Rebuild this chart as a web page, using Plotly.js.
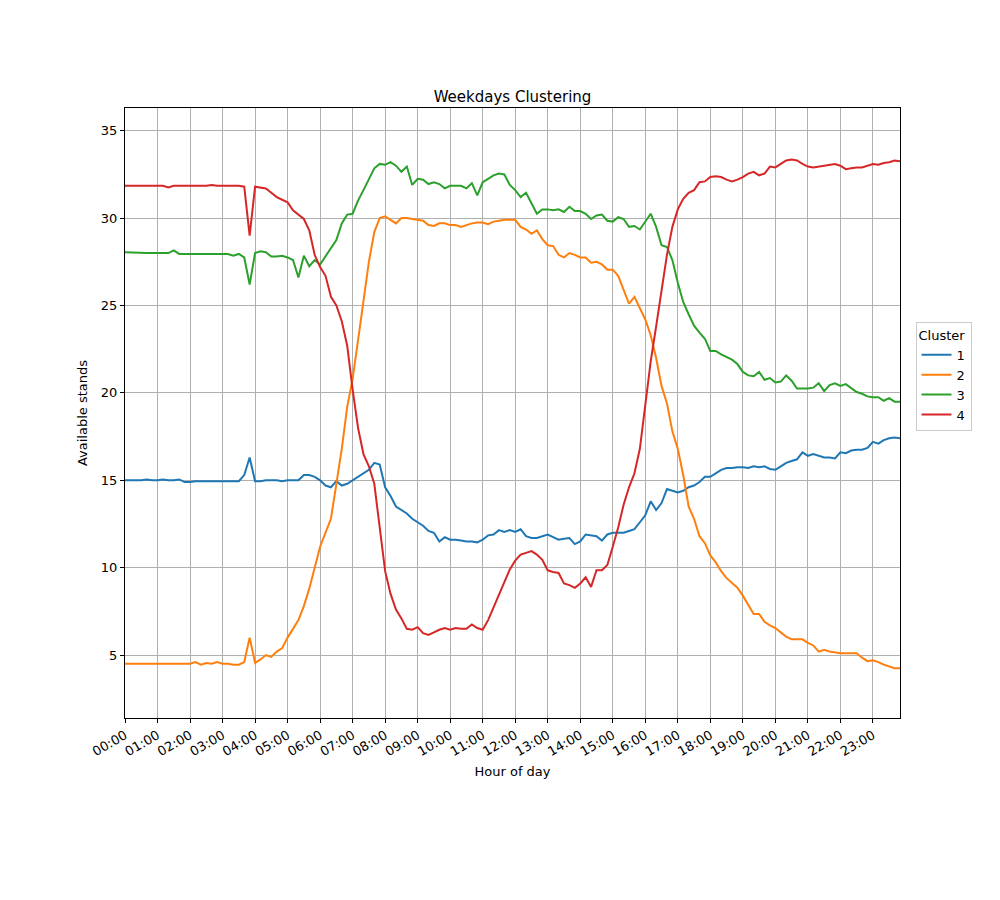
<!DOCTYPE html>
<html>
<head>
<meta charset="utf-8">
<script src="https://cdn.plot.ly/plotly-3.0.1.min.js"></script>
<style>body{margin:0;background:#fff}</style>
</head>
<body>
<div id="chart" style="width:1000px;height:900px"></div>
<script>
// Available stands per 10-minute slot, one row per hour
var cluster1 = [
  15,15,15,15,15.05,15, 15,15.05,15,15,15.05,14.9, 14.9,14.95,14.95,14.95,14.95,14.95,
  14.95,14.95,14.95,14.95,15.3,16.3, 14.95,14.95,15,15,15,14.95, 15,15,15,15.3,15.3,15.2,
  15,14.7,14.6,14.95,14.7,14.8, 15,15.2,15.4,15.6,16,15.9, 14.6,14.1,13.5,13.3,13.1,12.8,
  12.6,12.4,12.1,12,11.5,11.75, 11.6,11.6,11.55,11.5,11.5,11.45, 11.6,11.85,11.9,12.15,12.05,12.15,
  12.05,12.2,11.8,11.7,11.7,11.8, 11.9,11.75,11.6,11.65,11.7,11.35, 11.5,11.9,11.85,11.8,11.55,11.9,
  12,12,12,12.1,12.2,12.6, 13,13.8,13.3,13.7,14.5,14.4, 14.3,14.4,14.6,14.7,14.9,15.2,
  15.2,15.4,15.6,15.7,15.7,15.75, 15.75,15.7,15.8,15.75,15.8,15.65, 15.6,15.8,16,16.1,16.2,16.6,
  16.4,16.5,16.4,16.3,16.3,16.25, 16.6,16.55,16.7,16.75,16.75,16.85, 17.2,17.1,17.3,17.4,17.45,17.4
];
var cluster2 = [
  4.5,4.5,4.5,4.5,4.5,4.5, 4.5,4.5,4.5,4.5,4.5,4.5, 4.5,4.6,4.45,4.55,4.5,4.6,
  4.5,4.5,4.45,4.45,4.6,6.0, 4.55,4.75,5.0,4.9,5.2,5.4, 6.0,6.5,7.0,7.8,8.8,10.0,
  11.2,12.0,12.8,14.8,16.8,19.2, 20.8,23.0,25.2,27.5,29.2,30.0, 30.1,29.9,29.7,30,30,29.95,
  29.9,29.85,29.6,29.55,29.7,29.7, 29.6,29.6,29.5,29.6,29.7,29.75, 29.75,29.65,29.8,29.85,29.9,29.9,
  29.9,29.5,29.35,29.1,29.3,28.8, 28.45,28.4,27.9,27.75,28.0,27.9, 27.75,27.75,27.45,27.5,27.35,27.05,
  27.05,26.7,25.9,25.1,25.5,24.8, 24.2,23.3,22.0,20.4,19.4,17.8, 16.8,15.3,13.5,12.8,11.8,11.4,
  10.7,10.3,9.8,9.4,9.1,8.85, 8.4,7.85,7.35,7.35,6.9,6.7, 6.55,6.3,6.05,5.9,5.9,5.9,
  5.7,5.55,5.2,5.3,5.2,5.15, 5.1,5.1,5.1,5.1,4.85,4.65, 4.7,4.6,4.45,4.35,4.25,4.25
];
var cluster3 = [
  28.05,28.03,28.02,28.0,28.0,28.0, 28.0,28.0,28.0,28.15,27.95,27.95, 27.95,27.95,27.95,27.95,27.95,27.95,
  27.95,27.95,27.85,27.95,27.75,26.2, 28.0,28.1,28.05,27.8,27.8,27.85, 27.75,27.6,26.6,27.85,27.25,27.6,
  27.35,27.8,28.3,28.75,29.7,30.2, 30.25,31.0,31.6,32.2,32.85,33.1, 33.05,33.2,33.0,32.65,32.95,31.9,
  32.25,32.2,31.95,32.05,31.95,31.7, 31.85,31.85,31.85,31.7,32.0,31.3, 32.05,32.25,32.45,32.55,32.5,31.9,
  31.6,31.2,31.45,30.85,30.25,30.5, 30.5,30.45,30.5,30.35,30.65,30.4, 30.4,30.25,29.95,30.15,30.2,29.85,
  29.8,30.05,29.95,29.5,29.55,29.35, 29.8,30.25,29.5,28.45,28.35,27.6, 26.3,25.2,24.5,23.85,23.45,23.1,
  22.4,22.4,22.2,22.05,21.9,21.65, 21.2,21.0,20.95,21.2,20.75,20.85, 20.6,20.65,21.0,20.7,20.25,20.25,
  20.25,20.3,20.55,20.1,20.45,20.55, 20.4,20.5,20.25,20.05,19.95,19.8, 19.75,19.75,19.55,19.7,19.5,19.5
];
var cluster4 = [
  31.85,31.85,31.85,31.85,31.85,31.85, 31.85,31.85,31.75,31.85,31.85,31.85, 31.85,31.88,31.85,31.85,31.9,31.85,
  31.85,31.85,31.85,31.85,31.8,29.0, 31.8,31.75,31.7,31.45,31.2,31.05, 30.9,30.45,30.2,29.95,29.3,27.9,
  27.2,26.7,25.5,25.0,24.1,22.7, 20.2,18.0,16.5,15.8,14.8,12.4, 9.8,8.5,7.6,7.1,6.5,6.45,
  6.6,6.25,6.15,6.3,6.45,6.55, 6.45,6.55,6.5,6.5,6.75,6.55, 6.45,7.0,7.7,8.4,9.1,9.9,
  10.4,10.75,10.85,10.95,10.75,10.45, 9.85,9.75,9.7,9.1,9.0,8.85, 9.1,9.45,8.9,9.85,9.85,10.15,
  11.2,12.3,13.6,14.6,15.4,16.8, 19.3,21.8,23.8,25.8,27.9,29.5, 30.5,31.1,31.45,31.6,32.05,32.1,
  32.35,32.4,32.35,32.2,32.1,32.2, 32.35,32.55,32.65,32.45,32.55,32.95, 32.9,33.1,33.3,33.35,33.3,33.1,
  32.95,32.9,32.95,33.0,33.05,33.1, 33.0,32.8,32.85,32.9,32.9,33.0, 33.1,33.05,33.15,33.2,33.3,33.25
];
var clusterNames = ['1', '2', '3', '4'];
var clusterColors = ['#1f77b4', '#ff7f0e', '#2ca02c', '#d62728'];

var hours = [];
for (var i = 0; i < cluster1.length; i++) {
  hours[i] = i / 6;
}
var tickVals = [];
var tickText = [];
for (var h = 0; h < 24; h++) {
  tickVals.push(h);
  tickText.push((h < 10 ? '0' : '') + h + ':00');
}

var series = [cluster1, cluster2, cluster3, cluster4];
var data = series.map(function (values, k) {
  return {
    x: hours,
    y: values,
    type: 'scatter',
    mode: 'lines',
    name: clusterNames[k],
    line: {color: clusterColors[k], width: 2}
  };
});

var axisStyle = {
  showline: true,
  mirror: true,
  linecolor: '#000',
  linewidth: 1,
  ticks: 'outside',
  ticklen: 4,
  tickcolor: '#000',
  showgrid: true,
  gridcolor: '#b0b0b0',
  gridwidth: 1,
  zeroline: false,
  tickfont: {size: 13, color: '#000'}
};

var layout = {
  width: 1000,
  height: 900,
  paper_bgcolor: '#fff',
  plot_bgcolor: '#fff',
  font: {family: 'DejaVu Sans', color: '#000'},
  margin: {l: 125, r: 100, t: 108, b: 182},
  title: {text: 'Weekdays Clustering', font: {size: 15}, x: 0.5, xref: 'paper', y: 0.887, yref: 'container', yanchor: 'bottom'},
  xaxis: Object.assign({}, axisStyle, {
    range: [0, 143 / 6],
    tickvals: tickVals,
    ticktext: tickText,
    tickangle: -30,
    title: {text: 'Hour of day', font: {size: 13}, standoff: 8}
  }),
  yaxis: Object.assign({}, axisStyle, {
    range: [1.4, 36.3],
    tickvals: [5, 10, 15, 20, 25, 30, 35],
    title: {text: 'Available stands', font: {size: 13}, standoff: 10}
  }),
  legend: {
    title: {text: 'Cluster', font: {size: 13}},
    x: 1.02, xanchor: 'left', y: 0.56, yanchor: 'middle',
    bordercolor: '#ccc', borderwidth: 1,
    font: {size: 13}
  },
  showlegend: true
};

Plotly.newPlot('chart', data, layout, {staticPlot: true});
</script>
</body>
</html>
